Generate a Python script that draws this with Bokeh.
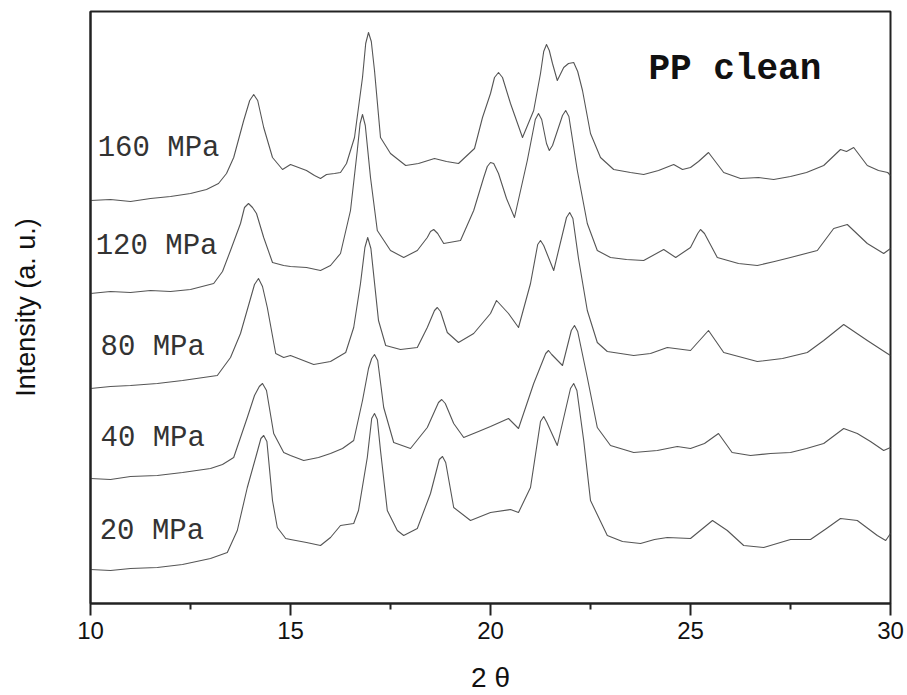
from bokeh.plotting import figure
from bokeh.models import Range1d, FixedTicker, Label, ColumnDataSource
from bokeh.core.properties import value
from bokeh.embed import file_html
from bokeh.resources import INLINE

# X-ray diffraction patterns of clean PP, stacked by processing pressure
two_theta_160 = [10.0, 10.5, 11.0, 11.5, 12.0, 12.5, 12.9, 13.2, 13.4, 13.58,
                 13.83, 13.98, 14.08, 14.18, 14.33, 14.55, 14.8, 15.0, 15.2, 15.4,
                 15.6, 15.75, 15.9, 16.1, 16.25, 16.4, 16.6, 16.8, 16.88, 16.95,
                 17.02, 17.1, 17.25, 17.5, 17.88, 18.2, 18.6, 18.9, 19.2, 19.6,
                 19.8, 20.0, 20.1, 20.2, 20.3, 20.5, 20.8, 21.08, 21.25, 21.33,
                 21.4, 21.47, 21.55, 21.67, 21.83, 21.95, 22.08, 22.18, 22.3, 22.5,
                 22.75, 23.08, 23.5, 23.83, 24.2, 24.58, 24.8, 25.0, 25.2, 25.45,
                 25.83, 26.25, 26.7, 27.08, 27.5, 27.9, 28.33, 28.75, 28.9, 29.08,
                 29.42, 29.7, 29.93, 30.0]
intensity_160 = [403, 404, 402, 405, 407, 410, 414, 420, 430, 446,
                 483, 503, 509, 503, 476, 446, 434, 439, 436, 433,
                 428, 425, 429, 430, 431, 440, 466, 526, 560, 571,
                 562, 533, 466, 450, 438, 440, 445, 442, 440, 455,
                 486, 510, 526, 531, 526, 500, 466, 493, 530, 552,
                 559, 553, 540, 523, 536, 540, 541, 532, 513, 470,
                 446, 434, 431, 429, 433, 439, 434, 436, 442, 451,
                 431, 425, 426, 424, 427, 431, 438, 454, 452, 456,
                 438, 433, 431, 428]

two_theta_120 = [10.0, 10.5, 11.0, 11.5, 12.0, 12.5, 13.08, 13.3, 13.5, 13.75,
                 13.85, 13.95, 14.05, 14.15, 14.33, 14.55, 14.83, 15.0, 15.4, 15.75,
                 16.0, 16.25, 16.5, 16.67, 16.74, 16.8, 16.87, 17.0, 17.17, 17.5,
                 17.83, 18.17, 18.42, 18.5, 18.58, 18.68, 18.83, 19.25, 19.58, 19.83,
                 19.92, 20.0, 20.08, 20.2, 20.4, 20.6, 20.92, 21.12, 21.2, 21.28,
                 21.4, 21.47, 21.55, 21.8, 21.88, 21.96, 22.17, 22.42, 22.67, 23.0,
                 23.4, 23.83, 24.33, 24.63, 25.0, 25.18, 25.25, 25.35, 25.67, 26.2,
                 26.67, 27.1, 27.5, 28.17, 28.58, 28.92, 29.42, 29.83, 30.0]
intensity_120 = [310, 312, 311, 313, 312, 314, 320, 332, 353, 380,
                 396, 400, 396, 390, 366, 341, 338, 337, 336, 333,
                 338, 350, 393, 453, 480, 489, 478, 426, 373, 353,
                 346, 353, 366, 372, 374, 370, 360, 363, 393, 426,
                 437, 441, 440, 430, 405, 386, 443, 484, 490, 484,
                 460, 453, 458, 488, 493, 487, 433, 380, 353, 346,
                 344, 343, 354, 346, 356, 370, 374, 370, 346, 340,
                 338, 342, 346, 353, 375, 379, 360, 350, 355]

two_theta_80 = [10.0, 10.5, 11.0, 11.67, 12.3, 13.17, 13.5, 13.75, 14.0, 14.1,
                14.2, 14.3, 14.42, 14.63, 14.83, 15.0, 15.58, 16.0, 16.38, 16.58,
                16.75, 16.86, 16.93, 17.01, 17.2, 17.38, 17.75, 18.17, 18.42, 18.6,
                18.67, 18.75, 18.92, 19.2, 19.58, 20.0, 20.15, 20.45, 20.7, 21.0,
                21.18, 21.25, 21.33, 21.58, 21.9, 21.98, 22.06, 22.2, 22.42, 22.67,
                22.92, 23.58, 24.0, 24.42, 25.0, 25.45, 25.83, 26.67, 27.3, 27.92,
                28.33, 28.83, 29.42, 29.92, 30.0]
intensity_80 = [215, 217, 218, 220, 223, 228, 246, 270, 305, 319,
                325, 317, 296, 250, 246, 248, 239, 242, 251, 276,
                320, 356, 366, 355, 283, 258, 254, 256, 276, 293,
                296, 292, 271, 261, 270, 290, 303, 290, 276, 320,
                359, 363, 358, 333, 386, 391, 385, 345, 293, 261,
                252, 248, 250, 256, 253, 273, 251, 242, 245, 251,
                263, 279, 263, 250, 248]

two_theta_40 = [10.0, 10.5, 11.0, 11.67, 12.3, 13.0, 13.3, 13.58, 13.92, 14.1,
                14.22, 14.3, 14.4, 14.58, 14.83, 15.0, 15.33, 15.7, 16.0, 16.3,
                16.58, 16.8, 16.95, 17.03, 17.1, 17.18, 17.33, 17.58, 18.0, 18.42,
                18.7, 18.78, 18.87, 19.08, 19.33, 19.7, 20.0, 20.45, 20.7, 21.08,
                21.38, 21.45, 21.53, 21.8, 22.02, 22.1, 22.18, 22.42, 22.67, 23.0,
                23.58, 24.17, 24.67, 25.0, 25.35, 25.7, 26.04, 26.5, 27.0, 27.5,
                27.9, 28.33, 28.83, 29.17, 29.5, 29.83, 30.0]
intensity_40 = [125, 124, 127, 128, 131, 135, 139, 146, 186, 208,
                217, 220, 213, 170, 151, 148, 143, 146, 150, 155,
                163, 203, 235, 245, 249, 243, 196, 161, 155, 176,
                201, 204, 200, 180, 166, 172, 177, 185, 175, 220,
                250, 253, 249, 238, 273, 278, 272, 226, 176, 158,
                151, 153, 157, 155, 160, 170, 151, 148, 150, 151,
                155, 160, 175, 170, 162, 153, 156]

two_theta_20 = [10.0, 10.5, 11.0, 11.67, 12.3, 13.0, 13.42, 13.67, 13.92, 14.13,
                14.26, 14.33, 14.41, 14.55, 14.67, 14.88, 15.0, 15.4, 15.75, 16.0,
                16.25, 16.58, 16.7, 16.92, 17.03, 17.1, 17.17, 17.25, 17.42, 17.67,
                17.83, 18.17, 18.5, 18.72, 18.8, 18.88, 19.08, 19.5, 20.0, 20.5,
                20.7, 21.0, 21.25, 21.33, 21.41, 21.67, 22.0, 22.08, 22.16, 22.33,
                22.5, 22.92, 23.3, 23.75, 24.1, 24.42, 25.0, 25.55, 25.92, 26.33,
                26.83, 27.5, 28.0, 28.4, 28.75, 29.17, 29.67, 29.88, 30.0]
intensity_20 = [34, 33, 35, 36, 39, 45, 51, 73, 116, 146,
                165, 168, 162, 103, 76, 65, 64, 61, 58, 66,
                78, 80, 93, 146, 185, 190, 184, 153, 93, 73,
                68, 75, 110, 144, 147, 141, 96, 83, 91, 94,
                91, 116, 182, 187, 181, 158, 215, 220, 213, 163,
                103, 68, 62, 60, 64, 66, 65, 83, 73, 58,
                56, 64, 64, 75, 85, 83, 68, 63, 70]

pressure_labels = ["160 MPa", "120 MPa", "80 MPa", "40 MPa", "20 MPa"]
label_two_theta = [10.18, 10.13, 10.25, 10.25, 10.23]
label_intensity = [455, 357, 256, 165, 72]

p = figure(width=907, height=695, output_backend="svg", toolbar_location=None,
           x_range=Range1d(10, 30), y_range=Range1d(0, 592),
           min_border_left=90, min_border_right=17, min_border_top=11, min_border_bottom=92,
           background_fill_color="white", border_fill_color="white")

p.xgrid.visible = False
p.ygrid.visible = False
p.outline_line_color = "#222222"
p.outline_line_width = 2

curves = [(two_theta_160, intensity_160), (two_theta_120, intensity_120), (two_theta_80, intensity_80),
          (two_theta_40, intensity_40), (two_theta_20, intensity_20)]
for tt, inten in curves:
    p.line(tt, inten, line_color="#555555", line_width=1.1, line_join="round")

src = ColumnDataSource(dict(x=label_two_theta, y=label_intensity, t=pressure_labels))
p.text(x="x", y="y", text="t", source=src, text_font=value("Liberation Mono"),
       text_font_size="29px", text_baseline="middle", text_align="left", text_color="#333333")

p.add_layout(Label(x=23.95, y=534, text="PP clean", text_font="Liberation Mono", text_font_style="bold",
                   text_font_size="36px", text_baseline="middle", text_align="left", text_color="#111111"))

xa = p.xaxis[0]
xa.ticker = FixedTicker(ticks=[10, 15, 20, 25, 30], minor_ticks=[12.5, 17.5, 22.5, 27.5])
xa.axis_line_width = 2
xa.axis_line_color = "#222222"
xa.major_tick_out = 12
xa.major_tick_in = 0
xa.minor_tick_out = 6
xa.minor_tick_in = 0
xa.major_tick_line_width = 2
xa.minor_tick_line_width = 2
xa.major_tick_line_color = "#222222"
xa.minor_tick_line_color = "#222222"
xa.major_label_text_font = "Liberation Sans"
xa.major_label_text_font_size = "24px"
xa.major_label_text_color = "#111111"
xa.major_label_standoff = 6
xa.axis_label = "2 θ"
xa.axis_label_text_font = "Liberation Sans"
xa.axis_label_text_font_style = "normal"
xa.axis_label_text_font_size = "28px"
xa.axis_label_text_color = "#111111"
xa.axis_label_standoff = 20

ya = p.yaxis[0]
ya.ticker = FixedTicker(ticks=[])
ya.axis_line_width = 2
ya.axis_line_color = "#222222"
ya.major_tick_line_color = None
ya.minor_tick_line_color = None
ya.major_label_text_font_size = "0px"
ya.axis_label = "Intensity (a. u.)"
ya.axis_label_text_font = "Liberation Sans"
ya.axis_label_text_font_style = "normal"
ya.axis_label_text_font_size = "27px"
ya.axis_label_text_color = "#111111"
ya.axis_label_standoff = 50

open("out.html", "w").write(file_html(p, INLINE))
